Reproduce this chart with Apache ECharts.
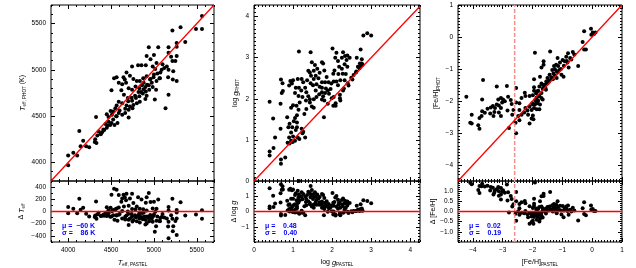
<!DOCTYPE html>
<html><head><meta charset="utf-8">
<script src="https://cdn.jsdelivr.net/npm/echarts@6/dist/echarts.min.js"></script>
<style>html,body{margin:0;padding:0;background:#fff}#c{width:636px;height:268px}</style>
</head><body><div id="c"></div>
<script>
// ---------- data ----------
const teffPastel = [4000,4000,4060,4105,4130,4145,4175,4210,4245,4325,
 5560,5560,5490,5310,5215,5365,5265,5265,5170,5170,5050,5265,5250,5215,5150,5170,5225,5220,5265,5165,5135,5170,5010,5065,5075,
 4940,4915,5000,4960,5030,4985,5015,4905,4855,4815,4745,4680,4645,4660,4720,4760,4800,4835,4875,4915,4955,4995,5030,5070,4975,4940,4900,4860,4830,4785,4745,4705,4675,4630,4590,4535,4565,4505,4620,4650,4695,4745,4790,4830,4870,4905,4945,4985,5025,4900,4915,4835,4800,4760,4720,4680,4665,4705,4750,4630,4590,4565,4550,4525,4590,4630,4665,4705,
 4495,4510,4470,4450,4525,4505,4540,4575,4470,4435,4450,4410,4395,4380,4355,4340,4315,4330,4310,4490,4565,
 4780,4850,4880,4920,4960,5000,5040,5090,5100,4880,4820,4740,4700,4600,4560,4460,4420,5120,5200];
const teffPhot = [3970,4075,4105,4075,4340,4175,4235,4175,4165,4490,
 5580,5440,5440,5460,5425,5300,5290,5250,5245,5185,5245,5150,5095,5095,5035,5000,4985,4895,4880,4920,4585,4730,4680,4910,4970,
 5245,5150,5160,5115,5075,5035,5010,5050,5050,5050,5035,4970,4920,4895,4935,4900,4880,4880,4910,4930,4895,4920,4880,4910,4860,4835,4815,4835,4800,4820,4785,4800,4860,4845,4860,4910,4920,4780,4780,4730,4695,4665,4695,4715,4745,4765,4785,4815,4785,4685,4720,4655,4640,4620,4605,4615,4580,4570,4585,4640,4655,4615,4585,4550,4535,4515,4535,4485,
 4555,4515,4490,4520,4465,4425,4405,4425,4440,4415,4375,4355,4325,4305,4335,4290,4250,4210,4220,4405,4500,
 4720,4760,4790,4840,4900,4950,4960,5000,5060,4860,4760,4700,4660,4560,4500,4400,4350,5020,5140];

const loggPastel = [2.90,3.00,2.80,2.73,2.76,2.76,2.71,2.66,2.61,2.49,2.52,2.42,2.01,2.11,2.28,2.33,2.39,2.25,2.08,2.15,
 2.37,2.32,2.45,2.63,2.18,2.25,2.39,2.27,2.35,2.16,2.06,2.03,2.21,2.32,2.11,2.04,1.98,2.15,2.21,2.09,
 1.99,1.89,1.84,1.89,1.82,1.77,1.74,1.79,1.77,1.74,1.62,1.68,1.80,1.86,1.65,1.58,1.53,1.45,1.51,1.60,
 1.68,1.74,1.58,1.67,1.74,1.60,1.53,1.43,1.48,1.53,1.43,1.39,1.34,1.31,1.26,1.36,1.46,1.43,1.15,1.45,
 1.48,1.56,1.22,1.12,1.00,0.93,0.97,0.90,1.07,1.15,1.21,1.05,1.14,1.24,1.33,1.17,1.00,0.95,1.09,1.14,
 1.34,1.29,1.10,1.05,0.85,1.02,1.10,0.91,0.88,0.98,1.07,1.10,1.22,1.24,0.95,1.00,0.90,1.12,1.31,0.95,
 0.86,0.91,1.05,0.69,0.73,0.68,0.74,0.71,0.40,0.49,0.68,0.54,0.50,0.40,0.40,0.80,0.69,0.69,2.04,1.80,
 1.92,1.96,1.39,1.53,1.74,1.82,1.91,2.28,
 2.55,2.62,2.70,2.74,2.78,2.40,2.30,2.20,1.16,1.26,0.99,2.03,2.09,2.20];
const loggPhot = [3.59,3.54,3.54,3.20,2.96,2.86,2.86,2.78,2.64,2.51,2.47,2.32,3.22,3.12,3.13,3.04,3.05,3.00,3.00,2.92,
 2.94,2.84,3.00,3.00,2.78,2.73,2.78,2.61,2.60,2.60,2.69,2.61,2.45,2.45,2.42,2.42,2.37,2.33,1.96,1.83,
 2.01,1.88,2.25,2.20,2.14,2.06,1.98,1.55,2.86,2.89,2.73,2.63,2.69,2.53,2.50,2.56,2.48,2.38,2.33,2.35,
 2.29,2.27,2.20,2.11,2.16,2.04,1.99,1.91,1.81,1.78,1.99,2.06,2.16,2.27,2.40,2.45,2.56,2.64,3.15,3.13,
 2.89,2.82,2.48,2.48,2.45,2.43,2.37,2.32,2.27,2.27,2.20,2.14,2.07,2.04,1.96,1.91,1.84,1.78,1.83,1.73,
 1.75,1.63,1.60,1.53,1.55,1.45,1.42,1.39,1.31,1.31,1.24,1.31,1.27,1.16,1.18,1.08,1.06,1.06,1.06,0.98,
 0.93,0.91,0.98,2.47,2.38,1.88,2.19,2.14,1.93,1.52,1.27,1.06,0.80,0.72,0.62,0.57,0.52,0.42,2.04,1.96,
 2.12,2.24,2.68,2.68,2.40,2.40,2.40,2.20,
 2.58,2.66,2.74,2.80,2.83,2.38,2.25,2.10,1.02,1.20,0.95,1.83,1.89,2.01];

const fehPastel = [-0.27,-0.04,0.02,0.06,-0.03,0.11,-0.32,-0.27,-0.21,-0.47,-0.65,-0.81,-0.87,-0.74,-0.99,-1.08,-0.92,-0.83,-0.79,-1.16,
 -1.41,-1.21,-1.14,-1.28,-1.34,-1.25,-1.19,-1.10,-1.03,-0.96,-1.30,-1.43,-1.37,-1.50,-1.54,-1.43,-1.32,-1.19,-1.59,-1.66,
 -1.57,-1.70,-1.77,-1.81,-1.88,-1.95,-1.99,-1.86,-1.77,-1.70,-1.81,-1.90,-2.01,-1.92,-1.83,-1.75,-1.66,-1.77,-1.86,-1.95,
 -2.03,-2.10,-2.17,-2.24,-2.28,-2.37,-2.15,-1.99,-1.97,-2.03,-2.10,-1.95,-1.92,-1.63,-1.63,-1.70,-1.75,-1.95,-2.10,-2.26,
 -2.24,-2.37,-2.44,-2.55,-2.48,-2.44,-2.57,-2.64,-2.68,-2.70,-2.55,-2.73,-2.82,-2.86,-2.93,-2.99,-3.06,-3.02,-3.13,-3.06,
 -3.15,-3.20,-3.26,-3.20,-3.33,-3.40,-3.28,-3.13,-3.06,-3.31,-3.42,-3.51,-3.60,-3.69,-3.69,-3.71,-3.78,-3.66,-4.04,-4.04,
 -4.22,-4.09,-3.82,-3.78,-2.79,-2.55,-2.84,-2.44,
 -1.60,-1.50,-1.45,-1.35,-1.25,-1.15,-1.05,-0.95,-0.85,-0.70,-0.60,-1.70,-1.80,-1.90,-2.00,-1.55,-1.65,-1.85];
const fehPhot = [0.18,0.26,0.14,0.09,0.07,0.14,-0.16,-0.39,-0.39,-0.91,-0.47,-0.51,-0.62,-0.66,-0.72,-0.80,-0.76,-0.80,-0.95,-0.66,
 -0.45,-0.87,-0.91,-0.91,-1.03,-1.01,-1.07,-1.03,-1.18,-1.24,-1.14,-1.18,-1.26,-1.28,-1.39,-1.36,-1.32,-1.28,-1.49,-1.62,
 -1.59,-1.45,-1.55,-1.68,-1.76,-1.68,-1.82,-1.89,-1.84,-1.91,-1.99,-1.95,-2.07,-2.11,-2.07,-2.11,-1.95,-2.26,-2.26,-2.22,
 -2.28,-2.18,-2.30,-2.22,-2.36,-2.43,-2.43,-2.45,-2.57,-2.55,-2.70,-1.32,-0.49,-0.76,-0.87,-0.95,-1.24,-1.57,-1.84,-1.74,
 -1.84,-1.91,-2.07,-2.05,-2.47,-2.60,-2.68,-2.28,-2.43,-2.09,-1.59,-1.97,-1.87,-1.53,-2.01,-1.95,-1.91,-2.05,-2.14,-2.22,
 -1.95,-2.11,-2.22,-1.55,-2.16,-2.20,-2.34,-2.36,-2.47,-2.47,-2.39,-2.24,-2.37,-1.95,-2.32,-2.47,-2.53,-1.34,-2.43,-2.70,
 -1.87,-2.68,-2.76,-2.87,-2.84,-3.01,-2.30,-2.28,
 -1.55,-1.45,-1.40,-1.30,-1.20,-1.10,-1.00,-0.90,-0.75,-0.70,-0.55,-1.75,-1.85,-2.00,-2.10,-1.65,-1.50,-1.70];

// axis ranges and tick labels
const teffRange = [3800, 5700], dTeffRange = [-500, 500];
const loggXRange = [0, 4.25], loggYRange = [0, 4.28], dLoggRange = [-2, 2];
const fehRange = [-4.5, 1], dFehRange = [-1.5, 1.5];
const teffTicks = [4000, 4500, 5000, 5500];
const dTeffTicks = [-400, -200, 0, 200, 400];
const loggTicks = [0, 1, 2, 3, 4];
const dLoggTicks = [-1, 0, 1];
const fehTicks = [-4, -3, -2, -1, 0, 1];
const dFehTicks = [-1, -0.5, 0, 0.5, 1];
const fehCut = -2.6;
const statMu = ['\u03bc =  \u221260 K', '\u03bc =    0.48', '\u03bc =    0.02'];
const statSigma = ['\u03c3 =    86 K', '\u03c3 =    0.40', '\u03c3 =    0.19'];

// ---------- chart ----------
const FONT = 'Liberation Sans';
const RED = '#ff0000';
const minus = v => String(v).replace('-', '\u2212');
const fmt1 = v => minus(Number(v).toFixed(1));
const rich = {
  i: {fontStyle: 'italic', fontSize: 7.5, fontFamily: FONT, color: '#000'},
  s: {fontSize: 4.6, fontFamily: FONT, color: '#000', verticalAlign: 'bottom', padding: [4, 0, 0, 0]}
};
const nameStyle = {fontSize: 7, fontFamily: FONT, color: '#000', rich};

const cols = [{left: 51, width: 163}, {left: 254, width: 166}, {left: 458, width: 164}];
const rows = [{top: 5, height: 176}, {top: 181, height: 65}];

const panels = [
  {xr: teffRange, yr: teffRange, dr: dTeffRange, xt: teffTicks, yt: teffTicks, dt: dTeffTicks,
   xm: 100, ym: 100, dm: 100, xf: minus, yf: minus, df: minus,
   xName: '{i|T}{s|eff, PASTEL}', yName: '{i|T}{s|eff, PHOT} (K)', dName: '\u0394 {i|T}{s|eff}', yGap: 24, dGap: 25},
  {xr: loggXRange, yr: loggYRange, dr: dLoggRange, xt: loggTicks, yt: loggTicks, dt: dLoggTicks,
   xm: 0.1, ym: 0.1, dm: 0.2, xf: minus, yf: minus, df: minus,
   xName: 'log {i|g}{s|PASTEL}', yName: 'log {i|g}{s|PHOT}', dName: '\u0394 log {i|g}', yGap: 14, dGap: 16},
  {xr: fehRange, yr: fehRange, dr: dFehRange, xt: fehTicks, yt: fehTicks, dt: dFehTicks,
   xm: 0.1, ym: 0.1, dm: 0.1, xf: minus, yf: minus, df: fmt1,
   xName: '[Fe/H]{s|PASTEL}', yName: '[Fe/H]{s|PHOT}', dName: '\u0394 [Fe/H]', yGap: 17, dGap: 20}
];
const xsData = [teffPastel, loggPastel, fehPastel];
const ysData = [teffPhot, loggPhot, fehPhot];

function sideAxes(gi, pos, range, major, minorStep, showLab, fmt, name, gap) {
  const primary = (pos === 'bottom' || pos === 'left');
  const base = {type: 'value', gridIndex: gi, position: pos, min: range[0], max: range[1],
    axisLine: {show: false, onZero: false}, splitLine: {show: false}, z: 0};
  const majorAx = Object.assign({}, base, {
    axisTick: {show: true, inside: true, length: 4, customValues: major, lineStyle: {color: '#000', width: 1}},
    axisLabel: {show: primary && showLab, customValues: major, formatter: fmt, margin: 5,
      fontSize: 6.5, fontFamily: FONT, color: '#000'},
    name: (primary && name) ? name : '', nameLocation: 'middle', nameGap: gap, nameTextStyle: nameStyle
  });
  const minorAx = Object.assign({}, base, {
    interval: minorStep,
    axisTick: {show: true, inside: true, length: 2, lineStyle: {color: '#000', width: 1}},
    axisLabel: {show: false}
  });
  return [majorAx, minorAx];
}

function refLine(axIdx, pts, style, z) {
  return {type: 'line', xAxisIndex: axIdx, yAxisIndex: axIdx, data: pts, symbol: 'none', showSymbol: false,
    silent: true, clip: false, lineStyle: style, itemStyle: {color: style.color}, color: style.color, z: z, zlevel: 1};
}

const grid = [], xAxis = [], yAxis = [], series = [], graphic = [];
panels.forEach((p, c) => {
  const gTop = 2 * c, gBot = 2 * c + 1;
  grid.push(Object.assign({show: true, borderColor: '#000', borderWidth: 1}, cols[c], rows[0]));
  grid.push(Object.assign({show: true, borderColor: '#000', borderWidth: 1}, cols[c], rows[1]));
  xAxis.push(...sideAxes(gTop, 'bottom', p.xr, p.xt, p.xm, false, p.xf, '', 0));
  xAxis.push(...sideAxes(gTop, 'top', p.xr, p.xt, p.xm, false, p.xf, '', 0));
  yAxis.push(...sideAxes(gTop, 'left', p.yr, p.yt, p.ym, true, p.yf, p.yName, p.yGap));
  yAxis.push(...sideAxes(gTop, 'right', p.yr, p.yt, p.ym, false, p.yf, '', 0));
  xAxis.push(...sideAxes(gBot, 'bottom', p.xr, p.xt, p.xm, true, p.xf, p.xName, 16));
  xAxis.push(...sideAxes(gBot, 'top', p.xr, p.xt, p.xm, false, p.xf, '', 0));
  yAxis.push(...sideAxes(gBot, 'left', p.dr, p.dt, p.dm, true, p.df, p.dName, p.dGap));
  yAxis.push(...sideAxes(gBot, 'right', p.dr, p.dt, p.dm, false, p.df, '', 0));

  const xs = xsData[c], ys = ysData[c];
  const top = xs.map((v, i) => [v, ys[i]]);
  const res = xs.map((v, i) => [v, +(ys[i] - v).toFixed(3)]);
  const lo = Math.max(p.xr[0], p.yr[0]), hi = Math.min(p.xr[1], p.yr[1]);
  const solid = {color: RED, width: 1.3, type: 'solid', opacity: 1};
  const zeroSolid = {color: RED, width: 1.6, type: 'solid', opacity: 1};
  const dashed = {color: '#f49090', width: 1.5, type: [4, 2], opacity: 1};

  series.push({type: 'scatter', xAxisIndex: 4 * gTop, yAxisIndex: 4 * gTop, data: top,
    symbolSize: 4, itemStyle: {color: '#000', opacity: 1}, z: 2, clip: true});
  series.push({type: 'scatter', xAxisIndex: 4 * gBot, yAxisIndex: 4 * gBot, data: res,
    symbolSize: 4, itemStyle: {color: '#000', opacity: 1}, z: 2, clip: true});
  series.push(refLine(4 * gTop, [[lo, lo], [hi, hi]], solid, 5));
  series.push(refLine(4 * gBot, [[p.xr[0], 0], [p.xr[1], 0]], zeroSolid, 5));
  if (c === 2) {
    series.push(refLine(4 * gTop, [[fehCut, p.yr[0]], [fehCut, p.yr[1]]], dashed, 4));
    series.push(refLine(4 * gBot, [[fehCut, p.dr[0]], [fehCut, p.dr[1]]], dashed, 4));
  }

  graphic.push({type: 'text', left: cols[c].left + 11, top: 223,
    style: {text: statMu[c], fill: '#0000ff', font: 'bold 7px "Liberation Sans"'}});
  graphic.push({type: 'text', left: cols[c].left + 11, top: 229.5,
    style: {text: statSigma[c], fill: '#0000ff', font: 'bold 7px "Liberation Sans"'}});
});

const chart = echarts.init(document.getElementById('c'), null, {renderer: 'canvas'});
chart.setOption({animation: false, backgroundColor: '#fff', grid, xAxis, yAxis, series, graphic});
</script></body></html>
